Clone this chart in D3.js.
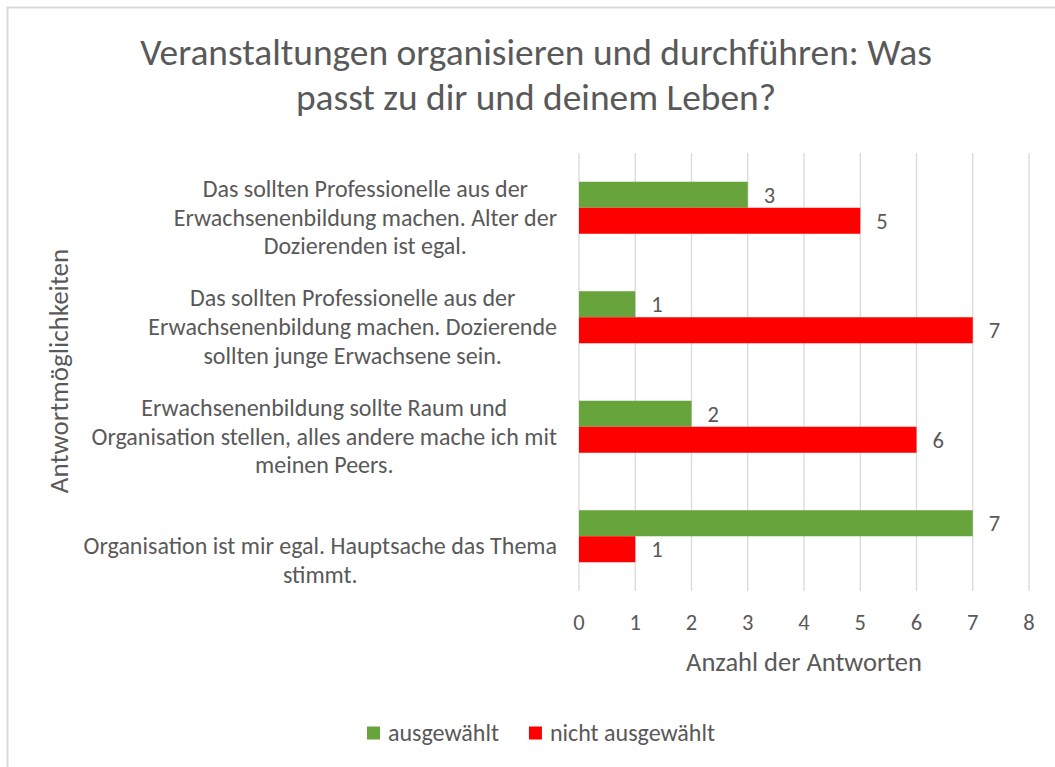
<!DOCTYPE html>
<html>
<head>
<meta charset="utf-8">
<script src="https://cdn.jsdelivr.net/npm/d3@7"></script>
<style>
  body { margin: 0; background: #fff; }
  svg text { font-family: Carlito, Calibri, Lato, sans-serif; fill: #595959; }
</style>
</head>
<body>
<svg id="chart" width="1055" height="767"></svg>
<script>
// categories, top to bottom, already wrapped the way the chart wraps them
var categories = [
  ["Das sollten Professionelle aus der", "Erwachsenenbildung machen. Alter der", "Dozierenden ist egal."],
  ["Das sollten Professionelle aus der", "Erwachsenenbildung machen. Dozierende", "sollten junge Erwachsene sein."],
  ["Erwachsenenbildung sollte Raum und", "Organisation stellen, alles andere mache ich mit", "meinen Peers."],
  ["Organisation ist mir egal. Hauptsache das Thema", "stimmt."]
];
var seriesNames = ["ausgewählt", "nicht ausgewählt"];
var selected    = [3, 1, 2, 7];
var notSelected = [5, 7, 6, 1];
var xTicks = [0, 1, 2, 3, 4, 5, 6, 7, 8];
var titleLines = ["Veranstaltungen organisieren und durchführen: Was", "passt zu dir und deinem Leben?"];
var xTitle = "Anzahl der Antworten";
var yTitle = "Antwortmöglichkeiten";

var colors = {"ausgewählt": "#67a43b", "nicht ausgewählt": "#ff0000"};
var gridColor = "#d9d9d9";

var svg = d3.select("#chart");

// chart frame (only top and left edges are visible in the original)
svg.append("path")
  .attr("d", "M7.5,767 V7.5 H1055")
  .attr("fill", "none")
  .attr("stroke", gridColor)
  .attr("stroke-width", 2);

var plot = {left: 579, right: 1029, top: 153, bottom: 591};

var x = d3.scaleLinear().domain([0, 8]).range([plot.left, plot.right]);

var ids = categories.map(function(d, i) { return i; });
var y = d3.scaleBand().domain(ids).range([plot.top, plot.bottom])
  .paddingInner(0.525).paddingOuter(0.2625);
var ySub = d3.scaleBand().domain(seriesNames).range([0, y.bandwidth()]);

// vertical gridlines
svg.append("g")
  .selectAll("line")
  .data(xTicks)
  .join("line")
    .attr("x1", function(d) { return x(d); })
    .attr("x2", function(d) { return x(d); })
    .attr("y1", plot.top)
    .attr("y2", plot.bottom)
    .attr("stroke", gridColor)
    .attr("stroke-width", 1.3);

// tick labels
svg.append("g")
  .selectAll("text")
  .data(xTicks)
  .join("text")
    .attr("x", function(d) { return x(d); })
    .attr("y", 622)
    .attr("dy", "0.35em")
    .attr("text-anchor", "middle")
    .style("font-size", "22.5px")
    .text(function(d) { return d; });

// bars
var rows = [];
categories.forEach(function(c, i) {
  rows.push({cat: i, series: seriesNames[0], value: selected[i]});
  rows.push({cat: i, series: seriesNames[1], value: notSelected[i]});
});

svg.append("g")
  .selectAll("rect")
  .data(rows)
  .join("rect")
    .attr("x", x(0))
    .attr("y", function(d) { return y(d.cat) + ySub(d.series); })
    .attr("width", function(d) { return x(d.value) - x(0); })
    .attr("height", ySub.bandwidth())
    .attr("fill", function(d) { return colors[d.series]; });

// data labels
svg.append("g")
  .selectAll("text")
  .data(rows)
  .join("text")
    .attr("x", function(d) { return x(d.value) + 16; })
    .attr("y", function(d) { return y(d.cat) + ySub(d.series) + ySub.bandwidth() / 2; })
    .attr("dy", "0.35em")
    .style("font-size", "22.5px")
    .text(function(d) { return d.value; });

// category labels: lines centred on their own block, block right edge at 557,
// bottom line sits a fixed distance above the band's end
var lineH = 28.8;
var catG = svg.append("g");
categories.forEach(function(lines, i) {
  var g = catG.append("g");
  var texts = g.selectAll("text")
    .data(lines)
    .join("text")
      .style("font-size", "24px")
      .attr("text-anchor", "middle")
      .attr("dy", "0.35em")
      .text(function(d) { return d; });
  var maxW = 0;
  texts.each(function() { maxW = Math.max(maxW, this.getComputedTextLength()); });
  var cx = 557 - maxW / 2;
  var bandEnd = y(i) + y.bandwidth() + (y.step() - y.bandwidth()) / 2;
  texts
    .attr("x", cx)
    .attr("y", function(d, j) { return bandEnd - 16.5 - (lines.length - 1 - j) * lineH; });
});

// title
svg.append("g")
  .selectAll("text")
  .data(titleLines)
  .join("text")
    .attr("x", 536)
    .attr("y", function(d, i) { return 52 + i * 45; })
    .attr("dy", "0.35em")
    .attr("text-anchor", "middle")
    .style("font-size", "37.4px")
    .text(function(d) { return d; });

// axis titles
svg.append("text")
  .attr("x", (plot.left + plot.right) / 2)
  .attr("y", 662)
  .attr("dy", "0.35em")
  .attr("text-anchor", "middle")
  .style("font-size", "26.5px")
  .text(xTitle);

svg.append("text")
  .attr("transform", "translate(59,371) rotate(-90)")
  .attr("dy", "0.35em")
  .attr("text-anchor", "middle")
  .style("font-size", "27px")
  .text(yTitle);

// legend
var legend = svg.append("g");
var items = legend.selectAll("g")
  .data(seriesNames)
  .join("g");
items.append("rect")
  .attr("width", 13).attr("height", 13)
  .attr("y", -6.5)
  .attr("fill", function(d) { return colors[d]; });
items.append("text")
  .attr("x", 21)
  .attr("dy", "0.35em")
  .style("font-size", "24px")
  .text(function(d) { return d; });

var offs = [], cur = 0;
items.each(function() {
  offs.push(cur);
  cur += this.getBBox().width + 30;
});
var total = cur - 30;
var lx = 541 - total / 2;
items.attr("transform", function(d, i) { return "translate(" + (lx + offs[i]) + ",733)"; });
</script>
</body>
</html>
